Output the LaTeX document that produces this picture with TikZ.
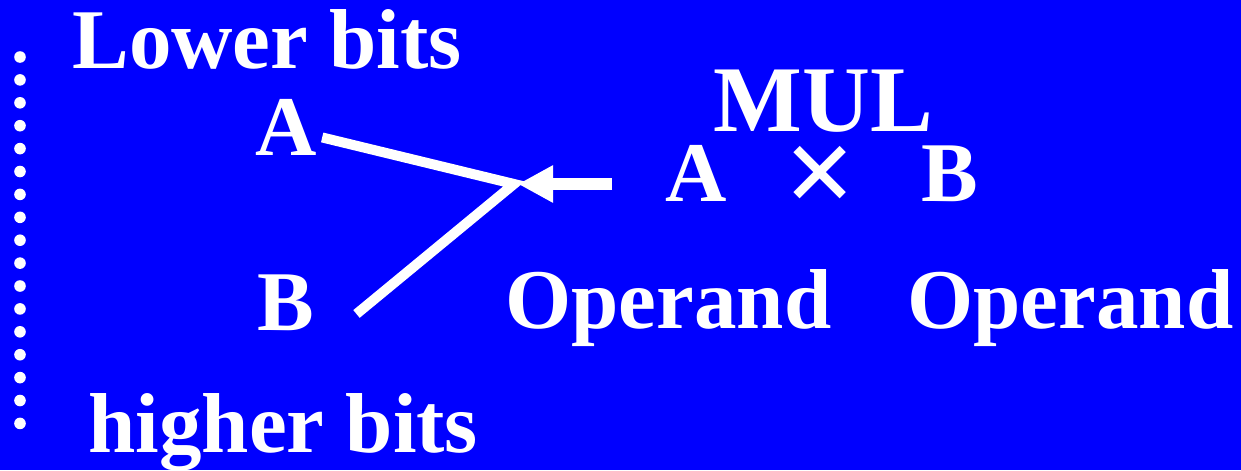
\documentclass[tikz,border=0pt]{standalone}
\usepackage{fontspec}
\setmainfont{Liberation Serif}
\usetikzlibrary{arrows.meta}
\definecolor{slideblue}{RGB}{0,0,255}

\begin{document}
\begin{tikzpicture}[x=0.5pt,y=-0.5pt,
  lbl/.style={white,inner sep=0pt,anchor=base west,font=\fontsize{42.5}{48}\selectfont\bfseries},
  wire/.style={white,line width=5pt,line join=miter},
  pointer/.style={white,line width=6pt,-{Triangle[length=17.5pt,width=17.5pt]}}]
% background
\fill[slideblue] (0,0) rectangle (1241,470);
% dotted rule on the left
\foreach \i in {0,...,16}
  \fill[white] (20,{57+\i*22.9}) circle[radius=2.9pt];
% words
\node[lbl] (lower) at (72,68) {Lower bits};
\node[lbl] (higher) at (88,452) {higher bits};
\node[lbl] (la) at (255,155) {A};
\node[lbl] (lb) at (257,330) {B};
\node[lbl,font=\fontsize{47}{52}\selectfont\bfseries] (mul) at (713,131) {MUL};
\node[lbl] (opa) at (665,201) {A};
\node[lbl,anchor=base,font=\fontsize{63}{68}\selectfont\bfseries] (times) at (820,214) {\smash{×}};
\node[lbl] (opb) at (921,201) {B};
\node[lbl] (wa) at (505,328) {Operand};
\node[lbl] (wb) at (907,328) {Operand};
% the two halves meet where the product comes in
\coordinate (join) at (514,184);
\coordinate (tail) at ([xshift=-26.5pt]opa.west);
\draw[wire] ([xshift=2.5pt,yshift=-5.25pt]la.east) -- (join)
  -- ([xshift=21pt,yshift=-20pt]lb.north east);
\draw[pointer] (tail |- join) -- ([xshift=2pt]join);
\end{tikzpicture}
\end{document}
